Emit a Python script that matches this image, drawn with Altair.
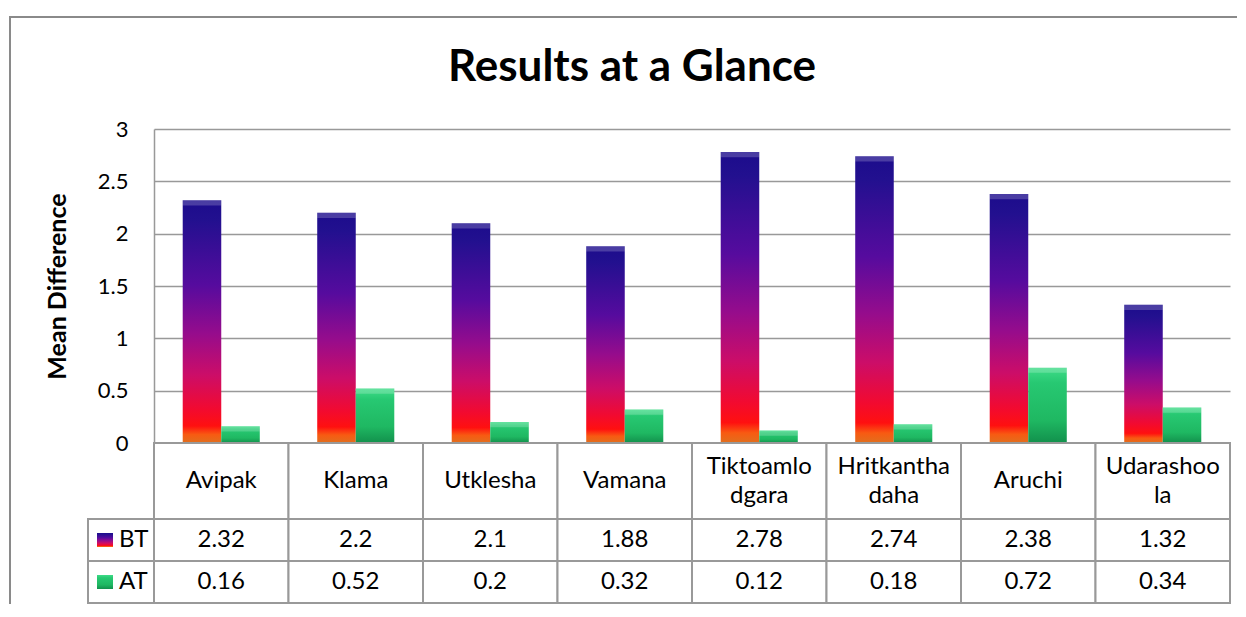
import altair as alt
import pandas as pd

categories = ["Avipak", "Klama", "Utklesha", "Vamana", "Tiktoamlodgara",
              "Hritkanthadaha", "Aruchi", "Udarashoola"]
labels = ["Avipak", "Klama", "Utklesha", "Vamana", "Tiktoamlo\ndgara",
          "Hritkantha\ndaha", "Aruchi", "Udarashoo\nla"]
bt = [2.32, 2.2, 2.1, 1.88, 2.78, 2.74, 2.38, 1.32]
at = [0.16, 0.52, 0.2, 0.32, 0.12, 0.18, 0.72, 0.34]
series = ["BT", "AT"]
y_ticks = [0, 0.5, 1, 1.5, 2, 2.5, 3]
title_text = "Results at a Glance"
y_title = "Mean Difference"

df = pd.DataFrame({
    "cat": categories * 2,
    "series": ["BT"] * len(categories) + ["AT"] * len(categories),
    "v": bt + at,
})
names_df = pd.DataFrame({"cat": categories, "label": labels})
bt_df = pd.DataFrame({"cat": categories, "v": bt})
at_df = pd.DataFrame({"cat": categories, "v": at})

W = 1076
H = 314
FONT = "Lato"
GRID = "#999999"
TABLE_FS = 24


def grad(stops):
    return alt.LinearGradient(
        gradient="linear", x1=0, y1=0, x2=0, y2=1,
        stops=[alt.GradientStop(offset=o, color=c) for o, c in stops])


BT_GRAD = grad([(0.0, "#1c0c8c"), (0.08, "#22108f"), (0.35, "#560b9e"),
                (0.55, "#960c8c"), (0.72, "#cc0d68"), (0.86, "#f20a30"),
                (0.93, "#ff1010"), (0.965, "#f85a12"), (1.0, "#e0701e")])
AT_GRAD = grad([(0.0, "#3fdc88"), (0.2, "#27c872"), (0.7, "#1fb862"),
                (1.0, "#12904c")])

xs_bar = alt.Scale(domain=categories, paddingInner=0.427, paddingOuter=0.2135)
xoff = alt.Scale(domain=series, paddingInner=0, paddingOuter=0)
ys = alt.Scale(domain=[0, 3], nice=False)

X = alt.X("cat:N", scale=xs_bar, axis=None, sort=categories)
XO = alt.XOffset("series:N", scale=xoff, sort=series)
Y = alt.Y("v:Q", scale=ys, title=y_title,
          axis=alt.Axis(values=y_ticks, format="~g", labelFont=FONT,
                        labelFontSize=22, labelColor="black",
                        titleFont=FONT, titleFontSize=25,
                        titleFontWeight="bold", titleColor="black",
                        titlePadding=27, domainColor=GRID, domainWidth=1.5,
                        gridColor=GRID, gridWidth=1.5, ticks=False,
                        tickSize=0, labelPadding=26))

base = alt.Chart(df)
bars_bt = base.transform_filter("datum.series == 'BT'").mark_bar(
    color=BT_GRAD).encode(x=X, xOffset=XO, y=Y)
bars_at = base.transform_filter("datum.series == 'AT'").mark_bar(
    color=AT_GRAD).encode(x=X, xOffset=XO, y="v:Q")
bevel = base.transform_calculate(top2="datum.v - 0.05").mark_bar(
    color="white", opacity=0.2).encode(x=X, xOffset=XO, y="v:Q", y2="top2:Q")

one = pd.DataFrame({"a": [0]})
frame_left = alt.Chart(one).mark_rule(color="#8a8a8a", strokeWidth=2).encode(
    x=alt.value(-144), y=alt.value(-112), y2=alt.value(475))
frame_top = alt.Chart(one).mark_rule(color="#8a8a8a", strokeWidth=2).encode(
    x=alt.value(-145), x2=alt.value(1083), y=alt.value(-112))
title = alt.Chart(one).mark_text(
    text=title_text, font=FONT, fontSize=44, fontWeight="bold",
    color="black", align="center", baseline="alphabetic").encode(
    x=alt.value(478), y=alt.value(-48))

top = alt.layer(frame_left, frame_top, title, bars_bt, bars_at, bevel).properties(
    width=W, height=H)

xs_tab = alt.Scale(domain=categories, paddingInner=0, paddingOuter=0)
XT = alt.X("cat:N", scale=xs_tab, axis=None, sort=categories)


def cells(data, h):
    return alt.Chart(data).mark_rect(
        fill="white", stroke=GRID, strokeWidth=2).encode(
        x=XT, y=alt.value(0), y2=alt.value(h))


def row_text(data, y, text, flt=None):
    c = alt.Chart(data)
    if flt:
        c = c.transform_filter(flt)
    return c.mark_text(
        font=FONT, fontSize=TABLE_FS, color="black", lineBreak="\n",
        lineHeight=29, baseline="middle", align="center").encode(
        x=XT, y=alt.value(y), text=text)


def legend_cell(name, fill, h):
    d = pd.DataFrame({"s": [name]})
    box = alt.Chart(d).mark_rect(fill="white", stroke=GRID, strokeWidth=2).encode(
        x=alt.value(-66), x2=alt.value(0), y=alt.value(0), y2=alt.value(h))
    icon = alt.Chart(d).mark_rect(color=fill).encode(
        x=alt.value(-57), x2=alt.value(-41), y=alt.value(h / 2 - 7),
        y2=alt.value(h / 2 + 7))
    txt = alt.Chart(d).mark_text(
        font=FONT, fontSize=TABLE_FS, color="black", align="left",
        baseline="middle").encode(x=alt.value(-35), y=alt.value(h / 2),
                                  text="s:N")
    return [box, icon, txt]


H1, H2, H3 = 76, 42, 42
row_name = alt.layer(
    cells(names_df, H1),
    row_text(names_df, H1 / 2, "label:N", "indexof(datum.label, '\\n') < 0"),
    row_text(names_df, H1 / 2 - 14.5, "label:N", "indexof(datum.label, '\\n') >= 0"),
).properties(width=W, height=H1)
row_bt = alt.layer(cells(bt_df, H2), row_text(bt_df, H2 / 2, alt.Text("v:Q", format="~g")),
                   *legend_cell("BT", BT_GRAD, H2)).properties(width=W, height=H2)
row_at = alt.layer(cells(at_df, H3), row_text(at_df, H3 / 2, alt.Text("v:Q", format="~g")),
                   *legend_cell("AT", AT_GRAD, H3)).properties(width=W, height=H3)

chart = alt.vconcat(top, row_name, row_bt, row_at, spacing=0, bounds="flush").resolve_scale(
    x="independent", y="independent").properties(
    padding={"left": 0, "top": 8, "right": 0, "bottom": 0}).configure_view(
    stroke=None)

chart.save("out.html", embed_options={"renderer": "svg", "actions": False})
